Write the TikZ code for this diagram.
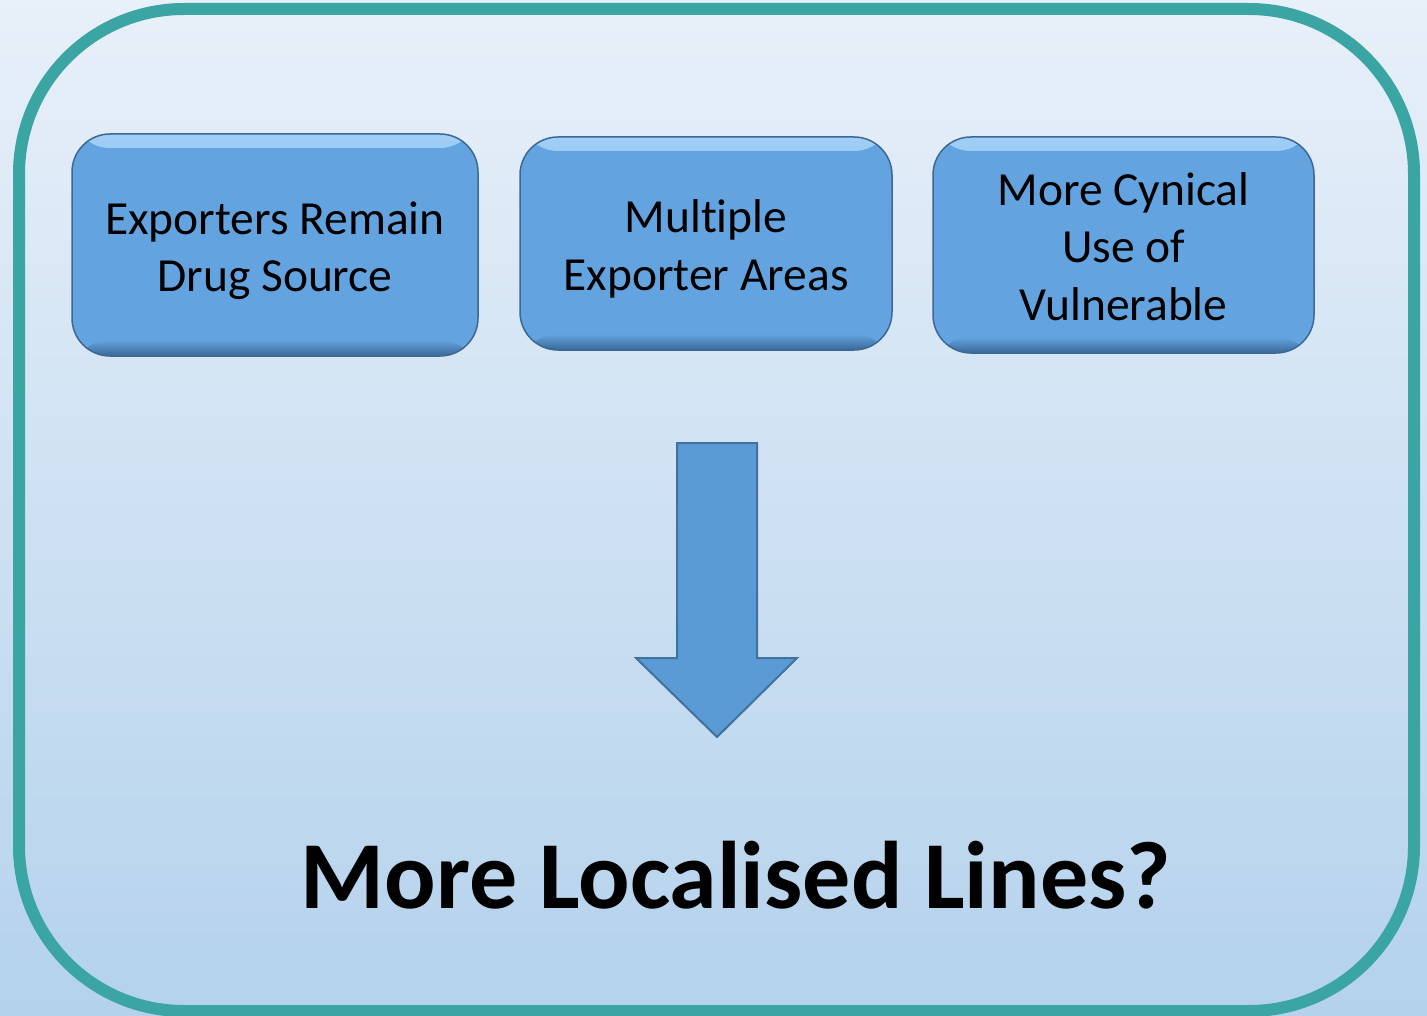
\documentclass[tikz,border=0pt]{standalone}
\usepackage{fontspec}
\setmainfont{Carlito}[Ligatures=NoCommon]
\definecolor{bgtop}{RGB}{232,240,249}
\definecolor{bgbot}{RGB}{180,210,236}
\definecolor{frameteal}{RGB}{59,165,163}
\definecolor{tileblue}{RGB}{99,164,224}
\definecolor{tilehi}{RGB}{160,206,246}
\definecolor{tilelo}{RGB}{58,104,150}
\definecolor{tileedge}{RGB}{62,104,148}
\definecolor{arrowblue}{RGB}{91,155,213}
\definecolor{arrowedge}{RGB}{65,113,156}
\begin{document}
\begin{tikzpicture}[x=1pt,y=-1pt]
        \tikzstyle{tile}=[rectangle,rounded corners=38pt,fill=tileblue,draw=tileedge,line width=1.5pt,inner sep=0pt,
          path picture={
            \fill[top color=tilehi,bottom color=tileblue] (path picture bounding box.north west) rectangle ([yshift=-14pt]path picture bounding box.north east);
            \fill[top color=tileblue,bottom color=tilelo] ([yshift=16pt]path picture bounding box.south west) rectangle (path picture bounding box.south east);
          }]
        \tikzstyle{tiletext}=[align=center,font=\fontsize{47.5}{57.5}\selectfont,inner sep=0pt]
        \tikzstyle{block}=[fill=arrowblue,draw=arrowedge,line width=2pt,line join=miter]
        \useasboundingbox (0,0) rectangle (1427,1016);
        \fill[top color=bgtop,bottom color=bgbot] (0,0) rectangle (1427,1016);
        \draw[frameteal,line width=12pt,rounded corners=165pt] (19,9) rectangle (1414,1011);
       \begin{scope}
         \node [tile,minimum width=406pt,minimum height=222pt] (source) at (275,245) {};
         \node [tile,minimum width=372pt,minimum height=213pt] (areas) at (706,243.5) {};
         \node [tile,minimum width=381pt,minimum height=216pt] (cynical) at (1123.5,245) {};
         \node [tiletext,yshift=-5.5pt] (sourcetxt) at (source.center) {Exporters Remain\\Drug Source};
         \node [tiletext,yshift=-5.5pt] (areastxt) at (areas.center) {Multiple\\Exporter Areas};
         \node [tiletext,yshift=-1.5pt] (cynicaltxt) at (cynical.center) {More Cynical\\Use of\\Vulnerable};
         \draw[block] (677,443) -- (757,443) -- (757,658) -- (797,658) -- (717,737) -- (636,658) -- (677,658) -- cycle;
         \node [anchor=base,font=\fontsize{96}{115}\selectfont\bfseries] (lines) at (736,908) {More Localised Lines?};
        \end{scope}
      \end{tikzpicture}
\end{document}
